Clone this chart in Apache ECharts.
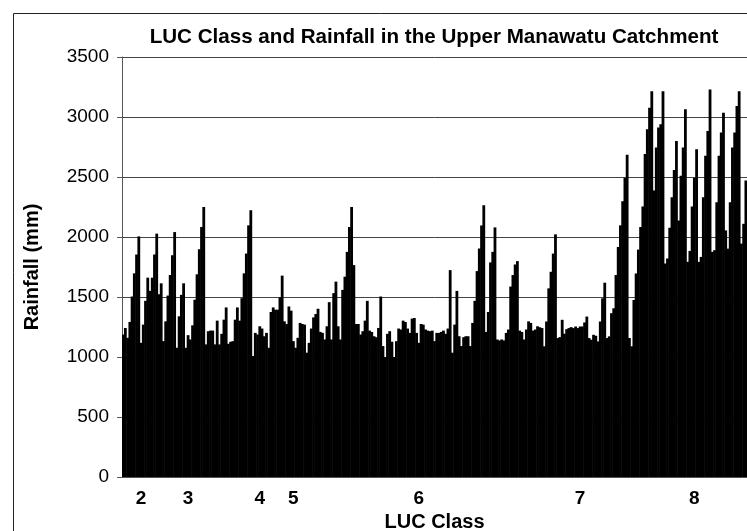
<!DOCTYPE html>
<html>
<head>
<meta charset="utf-8">
<script src="https://cdn.jsdelivr.net/npm/echarts@6/dist/echarts.min.js"></script>
<style>
  html, body { margin: 0; padding: 0; background: #fff; }
  #chart { width: 747px; height: 531px; }
</style>
</head>
<body>
<div id="chart"></div>
<script>
// 降雨量 (mm)，按图从左到右读出，分三段
const rainfallA = [1187, 1242, 1160, 1292, 1504, 1697, 1854, 2005, 1118, 1270, 1468, 1661, 1551, 1661, 1854, 2028,
  1523, 1614, 1132, 1297, 1512, 1683, 1848, 2041, 1077, 1339, 1518, 1614, 1077, 1182, 1146, 1264, 1477, 1689,
  1898, 2083, 2250, 1105, 1215, 1220, 1220, 1105, 1303, 1105, 1193, 1311, 1413,
  1110, 1127, 1132, 1311, 1413, 1303, 1490, 1697, 1862, 2097, 2222, 1008, 1201, 1187, 1256, 1237, 1173, 1201,
  1077, 1375, 1413, 1394, 1394, 1496, 1678, 1297, 1275, 1421, 1386, 1132, 1077, 1160, 1284, 1275, 1270, 1036,
  1118, 1237, 1330, 1358, 1402, 1209, 1201, 1146, 1256, 1457];
const rainfallB = [1146, 1532, 1628, 1256, 1146, 1559, 1669, 1876, 2083, 2250, 1766, 1275, 1275, 1187, 1215, 1303,
  1468, 1220, 1209, 1173, 1165, 1242, 1504, 1091, 1000, 1193, 1215, 1127, 1000, 1132, 1237, 1229, 1303, 1292,
  1237, 1201, 1320, 1325, 1201, 1118, 1275, 1270, 1229, 1220, 1215, 1220, 1132, 1201, 1201,
  1209, 1220, 1193, 1237, 1724, 1036, 1270, 1551, 1173, 1091, 1165, 1173, 1173, 1091, 1284, 1468, 1716, 1904,
  2096, 2264, 1209, 1375, 1788, 1876, 2080, 1146, 1138, 1146, 1138, 1201, 1229, 1587, 1683, 1771, 1799, 1220,
  1209, 1146, 1229, 1297, 1284, 1220, 1229, 1256, 1248];
const rainfallC = [1241, 1089, 1296, 1572, 1710, 1862, 2022, 1158, 1166, 1310, 1194, 1232, 1241, 1249, 1241, 1254,
  1241, 1254, 1254, 1288, 1337, 1158, 1144, 1185, 1177, 1130, 1296, 1489, 1619, 1158, 1172, 1365, 1406, 1683,
  1917, 2097, 2298, 2492, 2685, 1158, 1089, 1475, 1696, 1895, 2083, 2254, 2691, 2898, 3077, 3215, 2387, 2746,
  2912, 2939, 3215, 1779, 1821, 2077, 2332, 2558, 2801, 2138, 2511, 2746, 3064, 1793, 1884, 2254, 2492, 2732,
  1793, 1834, 2332, 2677, 2884, 3229, 1876, 1890, 2290, 2677, 2870, 3036, 2055, 1903, 2290, 2746, 2870, 3091,
  3215, 1945, 2110, 2470];

// LUC 等级标签 和 它们落在哪根柱子下面
const classLabels = ['2', '3', '4', '5', '6', '7', '8'];
const classLabelAt = [8, 29, 61, 76, 132, 204, 255];

// y轴刻度
const yMin = 0;
const yMax = 3500;
const yStep = 500;

const rainfall = rainfallA.concat(rainfallB, rainfallC);
// 横坐标：只有等级位置有文字
const categories = rainfall.map(function (v, i) {
  const k = classLabelAt.indexOf(i);
  return k >= 0 ? classLabels[k] : '';
});

const chart = echarts.init(document.getElementById('chart'), null, { renderer: 'canvas' });

const option = {
  backgroundColor: '#fff',
  animation: false,
  title: {
    text: 'LUC Class and Rainfall in the Upper Manawatu Catchment',
    left: 429,
    top: 22,
    textAlign: 'center',
    textStyle: {
      fontFamily: 'Liberation Sans',
      fontWeight: 'bold',
      fontSize: 20.6,
      color: '#000'
    }
  },
  // 外框（右边和下边在图外）
  graphic: [{
    type: 'rect',
    left: 11,
    top: 11,
    shape: { width: 800, height: 600 },
    style: { fill: 'none', stroke: '#222', lineWidth: 1 },
    silent: true
  }],
  grid: {
    left: 122,
    top: 57,
    right: 0,
    bottom: 54,
    containLabel: false,
    outerBoundsMode: 'none'
  },
  xAxis: {
    type: 'category',
    data: categories,
    name: 'LUC Class',
    nameLocation: 'middle',
    nameGap: 35,
    nameTextStyle: {
      fontFamily: 'Liberation Sans',
      fontWeight: 'bold',
      fontSize: 20,
      color: '#000'
    },
    axisLine: { lineStyle: { color: '#555', width: 1 } },
    axisTick: {
      interval: 2,
      length: 4,
      lineStyle: { color: '#555' }
    },
    axisLabel: {
      interval: 0,
      margin: 12,
      fontFamily: 'Liberation Sans',
      fontWeight: 'bold',
      fontSize: 19,
      color: '#000'
    }
  },
  yAxis: {
    type: 'value',
    min: yMin,
    max: yMax,
    interval: yStep,
    name: 'Rainfall (mm)',
    nameLocation: 'middle',
    nameGap: 80,
    nameTextStyle: {
      fontFamily: 'Liberation Sans',
      fontWeight: 'bold',
      fontSize: 20,
      color: '#000'
    },
    axisLine: { show: true, lineStyle: { color: '#555', width: 1 } },
    axisTick: { show: true, length: 5, lineStyle: { color: '#555' } },
    axisLabel: {
      margin: 13,
      fontFamily: 'Liberation Sans',
      fontSize: 19,
      color: '#000',
      formatter: function (v) { return String(v); }
    },
    splitLine: {
      lineStyle: { color: '#444', width: 1 }
    }
  },
  series: [{
    name: 'Rainfall',
    type: 'bar',
    data: rainfall,
    barWidth: '125%',
    itemStyle: { color: '#000' }
  }]
};
chart.setOption(option);
</script>
</body>
</html>
